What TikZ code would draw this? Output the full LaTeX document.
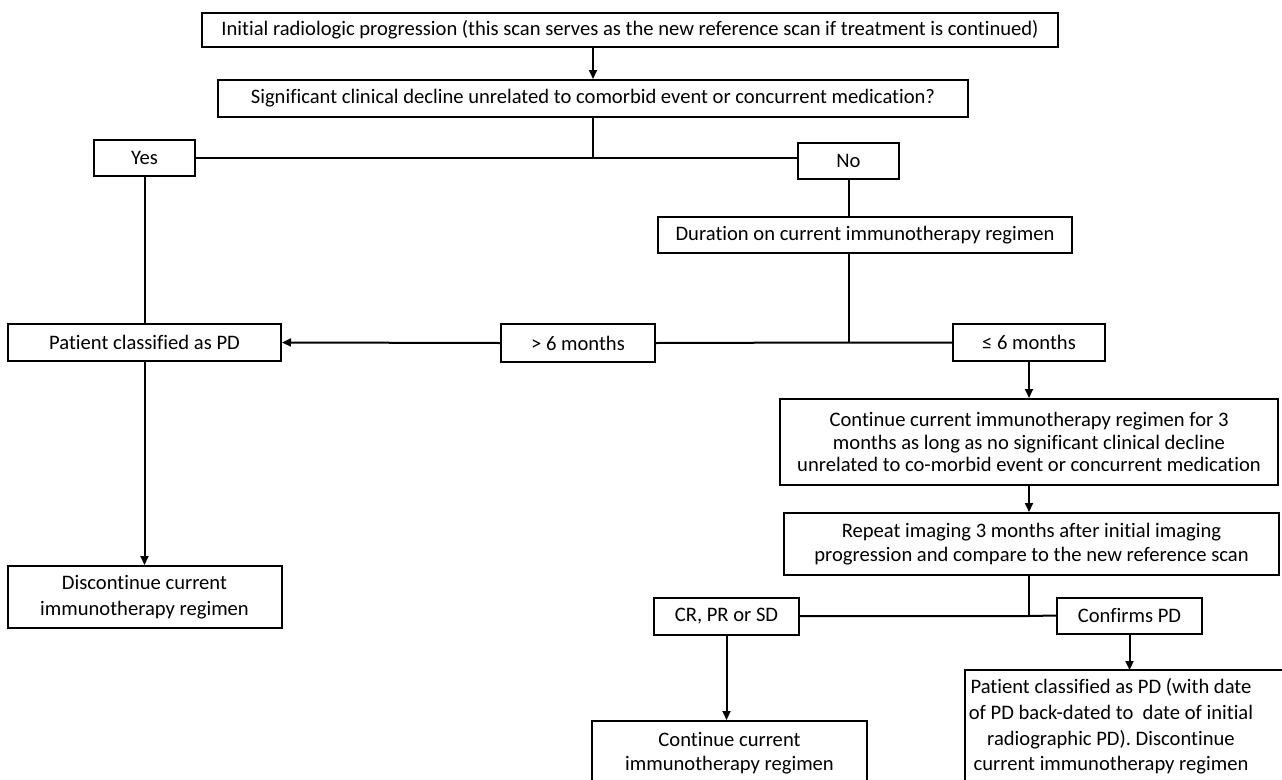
\documentclass[tikz,border=0pt]{standalone}
\usepackage{fontspec}
\setmainfont{Carlito}[Ligatures=NoCommon]
\usetikzlibrary{arrows.meta, positioning}

\begin{document}
\begin{tikzpicture}[
  x=1pt, y=-1pt,
  box/.style={rectangle, draw=black, line width=2pt, inner sep=2pt, align=center,
              minimum height=37pt, font=\fontsize{20.6}{24}\selectfont},
  arrow/.style={-{Triangle[length=9pt, width=8pt]}, line width=2pt},
  link/.style={line width=2pt}
]
  \useasboundingbox (0,0) rectangle (1282,779);
  \clip (0,0) rectangle (1282,779);

  \node[box, minimum width=856pt, minimum height=34pt] (scan) at (630,30)
    {Initial radiologic progression (this scan serves as the new reference scan if treatment is continued)};
  \node[box, minimum width=750pt] (decline) at (593,98.5)
    {Significant clinical decline unrelated to comorbid event or concurrent medication?};
  \node[box, minimum width=101pt, minimum height=36pt] (yes) at (144.5,158) {Yes};
  \node[box, minimum width=101pt, minimum height=36pt] (no) at (848.5,161) {No};
  \node[box, minimum width=414pt, minimum height=36pt] (duration) at (865,235)
    {Duration on current immunotherapy regimen};

  \node[box, minimum width=273pt] (pd) at (144.5,342.5) {Patient classified as PD};
  \node[box, minimum width=154pt, minimum height=38pt] (gt) at (578,343) {> 6 months};
  \node[box, minimum width=152pt] (le) at (1029,342.5) {≤ 6 months};
  \node[box, minimum width=274pt, minimum height=62pt, font=\fontsize{20.6}{26}\selectfont,
        below=203pt of pd] (discontinue) {Discontinue current\\immunotherapy regimen};

  \node[box, minimum width=498pt, minimum height=86pt, font=\fontsize{20.6}{22.5}\selectfont,
        below=36pt of le] (continue3)
    {Continue current immunotherapy regimen for 3\\months as long as no significant clinical decline\\unrelated to co-morbid event or concurrent medication};
  \node[box, minimum width=495pt, minimum height=62pt, below=26pt of continue3, xshift=2.5pt] (repeat)
    {Repeat imaging 3 months after initial imaging\\progression and compare to the new reference scan};

  \node[box, minimum width=145pt] (crprsd) at (726.5,616) {CR, PR or SD};
  \node[box, minimum width=145pt, minimum height=36pt] (confirms) at (1129.5,615.5) {Confirms PD};
  \node[box, minimum width=275pt, minimum height=65pt] (keep) at (729.5,753.5)
    {Continue current\\immunotherapy regimen};
  \node[box, draw=none, minimum width=290pt, minimum height=111pt,
        font=\fontsize{20.6}{25.7}\selectfont] (final) at (1111,726.5)
    {Patient classified as PD (with date\\of PD back-dated to\ \ date of initial\\radiographic PD). Discontinue\\current immunotherapy regimen};
  \draw[link] (final.south west) rectangle ([xshift=40pt]final.north east);

  % decision on clinical decline
  \draw[arrow] (scan.south -| decline.north) -- (decline.north);
  \draw[link] (decline.south) -- (decline.south |- yes.east) coordinate (fork1);
  \draw[link] (yes.east) -- (fork1) -- (fork1 -| no.west);
  \draw[link] (yes.south) -- (pd.north);
  \draw[arrow] (pd.south) -- (discontinue.north);

  % duration branch
  \draw[link] (no.south) -- (no.south |- duration.north);
  \draw[link] (duration.south -| no.south) -- (no.south |- le.west) coordinate (fork2);
  \draw[link] (le.west) -- (fork2) -- (gt.east);
  \draw[arrow] (gt.west) -- (pd.east);
  \draw[arrow] (le.south) -- (le.south |- continue3.north);
  \draw[arrow] (continue3.south) -- (continue3.south |- repeat.north);

  % repeat imaging outcome
  \draw[link] (repeat.south -| le.south) -- (le.south |- crprsd.east) coordinate (fork3);
  \draw[link] (crprsd.east) -- (fork3) -- (confirms.west);
  \draw[arrow] (crprsd.south) -- (crprsd.south |- keep.north);
  \draw[arrow] (confirms.south) -- (confirms.south |- final.north);
\end{tikzpicture}
\end{document}
